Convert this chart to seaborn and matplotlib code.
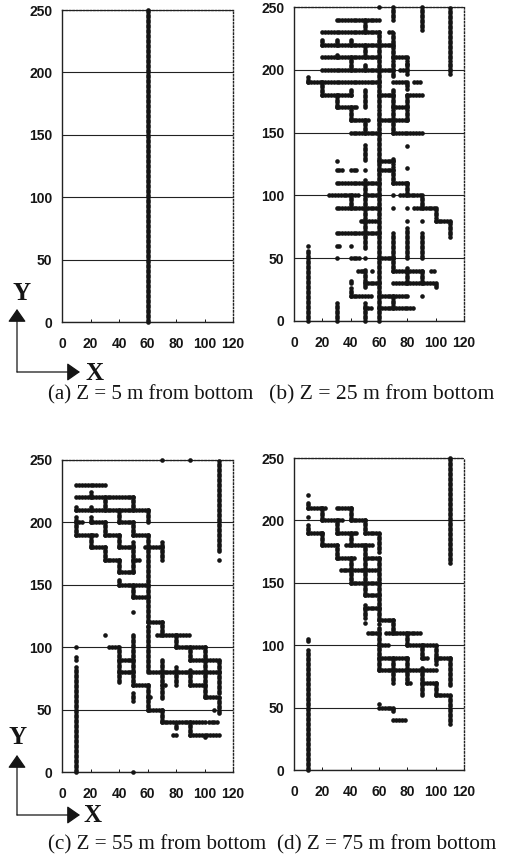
import numpy as np
import pandas as pd
import matplotlib
matplotlib.use("Agg")
import matplotlib.pyplot as plt
import seaborn as sns

W, H = 507, 858
x_ticks = [0, 20, 40, 60, 80, 100, 120]
y_ticks = [0, 50, 100, 150, 200, 250]
captions = ["(a) Z = 5 m from bottom", "(b) Z = 25 m from bottom",
            "(c) Z = 55 m from bottom", "(d) Z = 75 m from bottom"]

# Fracture-cell runs
# horizontal runs: (y, x_start, x_end); vertical runs: (x, y_start, y_end)
a_h = []
a_v = [(60, 0, 250)]

b_h = [(250, 60, 60), (240, 30, 60), (230, 20, 60), (230, 67, 70), (220, 20, 70), (210, 20, 60),
       (210, 70, 80), (200, 20, 70), (200, 75, 80), (190, 10, 60), (190, 70, 80), (190, 85, 90),
       (180, 20, 40), (170, 30, 45), (160, 40, 53), (180, 60, 70), (170, 70, 80), (160, 60, 80),
       (180, 80, 90), (150, 40, 60), (150, 70, 90), (139, 80, 80), (127, 30, 30), (120, 30, 35),
       (120, 40, 45), (120, 50, 50), (120, 60, 70), (127, 60, 70), (122, 80, 80), (110, 30, 60),
       (110, 70, 80), (100, 25, 45), (100, 50, 60), (100, 70, 70), (100, 75, 90), (90, 30, 60),
       (90, 70, 70), (90, 80, 80), (90, 85, 100), (80, 47, 60), (80, 80, 80), (80, 90, 90),
       (80, 100, 110), (70, 30, 60), (60, 30, 33), (60, 40, 40), (50, 30, 30), (50, 40, 47),
       (50, 50, 50), (50, 60, 70), (40, 45, 50), (40, 55, 55), (40, 70, 90), (40, 97, 100),
       (30, 50, 60), (30, 70, 100), (20, 40, 55), (20, 60, 80), (20, 90, 90), (10, 60, 85),
       (10, 50, 55), (60, 10, 10)]
b_v = [(60, 0, 230), (70, 240, 250), (90, 232, 250), (110, 197, 250), (50, 230, 240),
       (70, 195, 230), (30, 220, 225), (40, 220, 225), (20, 220, 225), (50, 210, 220),
       (30, 210, 213), (40, 200, 210), (80, 205, 210), (50, 200, 204), (80, 197, 205),
       (10, 190, 195), (80, 185, 190), (20, 180, 190), (40, 180, 185), (30, 170, 180),
       (40, 160, 170), (50, 150, 160), (50, 170, 185), (70, 150, 185), (80, 160, 180),
       (50, 128, 140), (70, 123, 130), (70, 110, 120), (80, 100, 110), (50, 58, 112),
       (90, 90, 100), (40, 90, 100), (100, 80, 90), (110, 67, 80), (70, 50, 70), (80, 50, 74),
       (90, 50, 70), (70, 40, 50), (90, 30, 40), (80, 30, 43), (50, 27, 42), (100, 27, 30),
       (40, 20, 27), (40, 30, 32), (70, 10, 20), (50, 0, 14), (30, 0, 15), (10, 0, 56)]

c_h = [(250, 70, 70), (250, 90, 90), (230, 10, 30), (220, 10, 50), (210, 10, 60), (200, 10, 14),
       (200, 20, 30), (200, 40, 50), (190, 10, 25), (190, 30, 40), (190, 50, 60), (180, 20, 30),
       (180, 40, 50), (180, 58, 70), (170, 30, 40), (170, 50, 55), (160, 40, 50), (150, 40, 60),
       (140, 50, 60), (128, 50, 50), (120, 60, 70), (117, 60, 60), (110, 30, 30), (110, 67, 90),
       (100, 33, 40), (100, 80, 100), (90, 40, 50), (90, 90, 110), (80, 40, 50), (80, 60, 110),
       (70, 50, 60), (70, 70, 73), (70, 90, 100), (60, 60, 63), (60, 100, 110), (50, 60, 70),
       (50, 107, 107), (40, 70, 100), (40, 103, 110), (30, 78, 80), (30, 90, 110), (28, 100, 100),
       (0, 50, 50)]
c_v = [(110, 177, 250), (110, 170, 170), (20, 220, 225), (30, 210, 220), (50, 210, 220),
       (20, 210, 213), (10, 210, 213), (60, 200, 210), (40, 200, 210), (10, 190, 205),
       (20, 200, 205), (30, 190, 200), (50, 190, 200), (60, 120, 190), (20, 180, 190),
       (40, 180, 190), (30, 170, 180), (50, 160, 185), (40, 160, 170), (40, 150, 155),
       (50, 140, 150), (70, 170, 185), (70, 110, 120), (80, 100, 110), (60, 82, 116),
       (40, 72, 100), (50, 70, 110), (90, 90, 100), (100, 60, 100), (110, 63, 90), (70, 70, 90),
       (80, 70, 84), (90, 70, 83), (60, 50, 70), (50, 57, 64), (70, 59, 67), (110, 47, 60),
       (70, 40, 50), (80, 35, 40), (90, 30, 40), (10, 100, 100), (10, 90, 92), (10, 0, 85)]

d_h = [(220, 10, 10), (210, 10, 23), (210, 30, 40), (200, 20, 35), (200, 40, 50), (190, 10, 20),
       (190, 30, 45), (190, 50, 60), (180, 20, 30), (180, 37, 55), (170, 30, 43), (170, 50, 60),
       (160, 33, 60), (150, 40, 60), (140, 50, 60), (130, 50, 60), (118, 50, 50), (120, 60, 70),
       (117, 60, 60), (110, 52, 60), (110, 65, 90), (100, 60, 67), (100, 80, 100), (90, 60, 80),
       (90, 90, 95), (90, 100, 110), (80, 60, 100), (70, 80, 83), (70, 90, 100), (60, 100, 110),
       (50, 60, 70), (53, 60, 60), (40, 70, 78)]
d_v = [(110, 166, 250), (10, 210, 215), (40, 200, 210), (20, 200, 210), (10, 203, 203),
       (10, 190, 197), (30, 190, 200), (50, 190, 200), (60, 175, 190), (20, 180, 190),
       (40, 180, 190), (30, 170, 180), (50, 140, 180), (60, 120, 170), (40, 150, 170),
       (50, 122, 132), (70, 110, 120), (60, 80, 115), (80, 100, 110), (90, 90, 100),
       (100, 85, 100), (110, 68, 90), (70, 70, 90), (80, 70, 90), (90, 60, 83), (100, 60, 70),
       (110, 37, 60), (70, 47, 50), (10, 103, 105), (10, 0, 97)]

panel_runs = [(a_h, a_v), (b_h, b_v), (c_h, c_v), (d_h, d_v)]
# axes box in pixels: left, right, top, bottom
boxes = [(62, 233, 10, 322), (294, 464, 7, 321), (62, 233, 460, 772), (294, 464, 458, 770)]
caption_xy = [(151, 395), (382, 395), (157, 845), (387, 845)]
caption_size = [15, 15.6, 15.2, 15.2]
STEP = 2.0


def cells(h_runs, v_runs):
    rows = []
    for y, x0, x1 in h_runs:
        rows += [(x, y) for x in np.arange(x0, x1 + 0.01, STEP)]
    for x, y0, y1 in v_runs:
        rows += [(x, y) for y in np.arange(y0, y1 + 0.01, STEP)]
    return pd.DataFrame(rows, columns=["x", "y"])


sns.set_theme(style="white")
plt.rcParams["font.family"] = ["Liberation Sans", "DejaVu Sans"]
fig = plt.figure(figsize=(W / 100, H / 100), dpi=100, facecolor="white")
INK = "#151515"

for (h_runs, v_runs), (l, r, t, b), cap, (cx, cy), fs in zip(panel_runs, boxes, captions,
                                                             caption_xy, caption_size):
    ax = fig.add_axes([l / W, 1 - b / H, (r - l) / W, (b - t) / H])
    sns.scatterplot(data=cells(h_runs, v_runs), x="x", y="y", ax=ax, color=INK, s=11,
                    linewidth=0, clip_on=False, zorder=3)
    ax.set_xlim(0, 120)
    ax.set_ylim(0, 250)
    ax.set_xticks(x_ticks)
    ax.set_yticks(y_ticks)
    ax.set_xlabel("")
    ax.set_ylabel("")
    ax.grid(False)
    ax.yaxis.grid(True, color="#222222", lw=0.8)
    ax.set_axisbelow(True)
    ax.tick_params(axis="x", direction="in", length=2.5, width=0.7, pad=10.5, colors=INK, bottom=True)
    ax.tick_params(axis="y", length=0, pad=7, colors=INK)
    for lab in ax.get_xticklabels() + ax.get_yticklabels():
        lab.set_fontsize(10)
        lab.set_fontweight("bold")
    for side in ("left", "bottom"):
        ax.spines[side].set(visible=True, color="#222222", lw=1.0)
    for side in ("top", "right"):
        ax.spines[side].set(visible=True, color="#222222", lw=1.0, linestyle=(0, (1, 1.5)))
    fig.text(cx / W, 1 - cy / H, cap, ha="center", va="center", fontsize=fs,
             family="Liberation Serif", color=INK)

# XY orientation keys
for ox, oy, ytip, xtip, yl, xl in [(17, 372, 309, 80, (22, 294), (94, 373)),
                                   (17, 815, 755, 80, (18, 737), (92, 815))]:
    for tip in [(ox, ytip), (xtip, oy)]:
        fig.add_artist(matplotlib.patches.FancyArrowPatch(
            (ox / W, 1 - oy / H), (tip[0] / W, 1 - tip[1] / H), transform=fig.transFigure,
            arrowstyle="-|>,head_length=5,head_width=3.5", mutation_scale=1.6, lw=0.9,
            color=INK, shrinkA=0, shrinkB=0))
    fig.text(yl[0] / W, 1 - yl[1] / H, "Y", ha="center", va="center", fontsize=18,
             fontweight="bold", family="Liberation Serif", color=INK)
    fig.text(xl[0] / W, 1 - xl[1] / H, "X", ha="center", va="center", fontsize=18,
             fontweight="bold", family="Liberation Serif", color=INK)

fig.savefig("out.png", dpi=100, facecolor="white")
